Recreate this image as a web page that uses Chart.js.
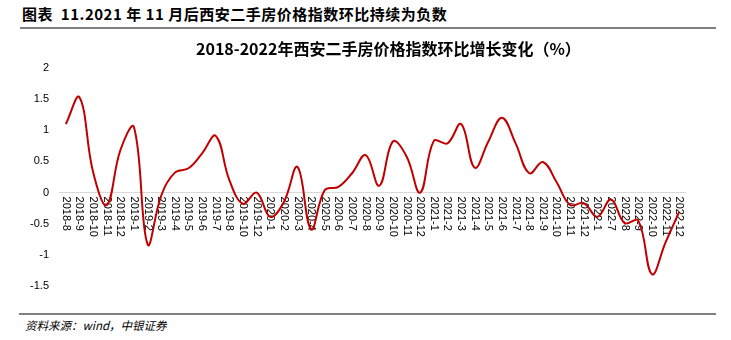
<!DOCTYPE html>
<html lang="zh">
<head>
<meta charset="UTF-8">
<title>西安二手房价格指数环比</title>
<script src="https://cdn.jsdelivr.net/npm/chart.js"></script>
<style>
  body { margin: 0; background: #fff; width: 731px; height: 340px; position: relative; overflow: hidden; }
  #head { position: absolute; left: 22px; top: 3px; font: bold 15px "Noto Sans CJK SC", sans-serif; letter-spacing: 0.5px; color: #000; white-space: nowrap; }
  #rule1 { position: absolute; left: 20px; width: 696px; top: 27px; height: 2px; background: #7f7f7f; }
  #title { position: absolute; left: 196px; top: 36px; font: bold 16px "Noto Sans CJK SC", sans-serif; color: #000; white-space: nowrap; }
  #box { position: absolute; left: 0; top: 30px; width: 731px; height: 282px; }
  #rule2 { position: absolute; left: 19px; width: 697px; top: 313px; height: 2px; background: #7f7f7f; }
  #src { position: absolute; left: 25px; top: 317px; font: italic 11.5px "Noto Sans CJK SC", serif; color: #000; white-space: nowrap; }
</style>
</head>
<body>
<div id="head">图表&nbsp; 11.2021 年 11 月后西安二手房价格指数环比持续为负数</div>
<div id="rule1"></div>
<div id="box"><canvas id="myChart"></canvas></div>
<div id="title">2018-2022年西安二手房价格指数环比增长变化（%）</div>
<div id="rule2"></div>
<div id="src">资料来源：wind，中银证券</div>
<script>
const months = ['2018-8','2018-9','2018-10','2018-11','2018-12',
  '2019-1','2019-2','2019-3','2019-4','2019-5','2019-6','2019-7','2019-8','2019-10','2019-12',
  '2020-1','2020-2','2020-3','2020-4','2020-5','2020-6','2020-7','2020-8','2020-9','2020-10','2020-11','2020-12',
  '2021-1','2021-2','2021-3','2021-4','2021-5','2021-6','2021-7','2021-8','2021-9','2021-10','2021-11','2021-12',
  '2022-1','2022-7','2022-8','2022-9','2022-10','2022-11','2022-12'];
const momChange = [1.10, 1.53, 0.33, -0.20, 0.68,
  1.05, -0.83, -0.05, 0.32, 0.39, 0.63, 0.91, 0.20, -0.18, 0.00,
  -0.39, -0.15, 0.41, -0.59, 0.04, 0.09, 0.31, 0.60, 0.11, 0.82, 0.58, 0.00,
  0.83, 0.79, 1.10, 0.40, 0.82, 1.20, 0.79, 0.31, 0.49, 0.17, -0.20, -0.17,
  -0.39, -0.11, -0.49, -0.45, -1.31, -0.80, -0.31];
const yTicks = [-1.5, -1, -0.5, 0, 0.5, 1, 1.5, 2];

// x labels are drawn rotated clockwise just under the zero line
const zeroLabels = {
  id: 'zeroLabels',
  beforeDatasetsDraw(chart) {
    const ctx = chart.ctx;
    const xs = chart.scales.x, ys = chart.scales.y;
    const y0 = ys.getPixelForValue(0);
    ctx.save();
    ctx.font = '11px "Liberation Sans", Arial, sans-serif';
    ctx.fillStyle = '#000';
    ctx.textAlign = 'left';
    ctx.textBaseline = 'middle';
    months.forEach((m, i) => {
      ctx.save();
      ctx.translate(xs.getPixelForValue(i), y0 + 4);
      ctx.rotate(Math.PI / 2);
      ctx.fillText(m, 0, 0);
      ctx.restore();
    });
    ctx.restore();
  }
};

new Chart(document.getElementById('myChart'), {
  type: 'line',
  data: {
    labels: months,
    datasets: [{
      data: momChange,
      borderColor: '#c00000',
      borderWidth: 2,
      pointRadius: 0,
      tension: 0.4,
      fill: false
    }]
  },
  options: {
    responsive: true,
    maintainAspectRatio: false,
    animation: false,
    layout: { padding: { left: 0, right: 45, top: 38, bottom: 26 } },
    plugins: {
      legend: { display: false },
      tooltip: { enabled: false }
    },
    scales: {
      x: { display: false, offset: true },
      y: {
        min: -1.5, max: 2,
        afterFit: s => { s.width = 59; },
        afterBuildTicks: s => { s.ticks = yTicks.map(v => ({ value: v })); },
        border: { display: false },
        grid: {
          drawTicks: false,
          color: c => c.tick && c.tick.value === 0 ? '#d9d9d9' : 'rgba(0,0,0,0)'
        },
        ticks: {
          padding: 10,
          color: '#000',
          callback: v => String(v),
          font: { family: '"Liberation Sans", Arial, sans-serif', size: 11 }
        }
      }
    }
  },
  plugins: [zeroLabels]
});
</script>
</body>
</html>
